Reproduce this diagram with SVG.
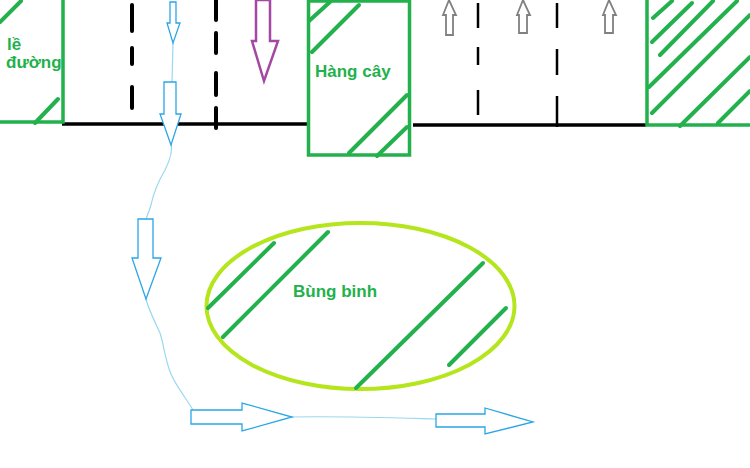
<svg xmlns="http://www.w3.org/2000/svg" width="750" height="468" viewBox="0 0 750 468">
<defs>
<style>
.g{fill:none;stroke:#22b14c;stroke-width:3.5}
.h{fill:none;stroke:#22b14c;stroke-width:4;stroke-linecap:round}
.t{fill:#22b14c;font-family:"Liberation Sans",Arial,sans-serif;font-weight:bold;font-size:17px}
.road{fill:none;stroke:#000;stroke-width:3.5}
.dash{fill:none;stroke:#000;stroke-width:4;stroke-linecap:round}
.dash2{fill:none;stroke:#000;stroke-width:2.5}
.ba{fill:#fff;stroke:#2aa6e6;stroke-width:1.3}
.bl{fill:none;stroke:#9ad8ee;stroke-width:1.2}
.pa{fill:#fff;stroke:#a349a4;stroke-width:2.5}
.ga{fill:#fff;stroke:#808080;stroke-width:1.8}
</style>
</defs>
<rect width="750" height="468" fill="#fff"/>
<g id="road">
<line class="road" x1="62" y1="124" x2="308" y2="124"/>
<line class="road" x1="413" y1="125" x2="646" y2="125"/>
<path class="dash" d="M132,5V31M132,48V64M132,87V108"/>
<path class="dash" d="M216,0V20M216,33V53M216,73V95M216,108V128"/>
<path class="dash2" d="M478,3V28M478,47V65M478,90V115"/>
<path class="dash2" d="M557,3V28M557,49V75M557,96V127"/>
</g>
<g id="le-duong">
<path class="g" d="M0,122H63V0"/>
<line class="h" x1="0" y1="22" x2="21" y2="1"/>
<line class="h" x1="35" y1="123" x2="58" y2="99"/>
<text class="t" x="7" y="50">lề</text>
<text class="t" x="6" y="68">đường</text>
</g>
<g id="hang-cay">
<rect class="g" x="308.5" y="1" width="101" height="154"/>
<line class="h" x1="309" y1="21" x2="331" y2="1"/>
<line class="h" x1="312" y1="52" x2="359" y2="5"/>
<line class="h" x1="349" y1="153" x2="407" y2="95"/>
<line class="h" x1="377" y1="156" x2="407" y2="127"/>
<text class="t" x="315" y="77">Hàng cây</text>
</g>
<g id="right-block">
<path class="g" d="M647,0V125H750"/>
<line class="h" x1="653" y1="18" x2="672" y2="1"/>
<line class="h" x1="652" y1="42" x2="692" y2="3"/>
<line class="h" x1="660" y1="55" x2="713" y2="1"/>
<line class="h" x1="649" y1="87" x2="737" y2="1"/>
<line class="h" x1="652" y1="113" x2="750" y2="15"/>
<line class="h" x1="680" y1="126" x2="750" y2="57"/>
<line class="h" x1="718" y1="123" x2="750" y2="91"/>
</g>
<g id="bung-binh">
<ellipse cx="360.5" cy="306" rx="154" ry="83" fill="none" stroke="#b5e61d" stroke-width="4"/>
<line class="h" x1="208" y1="308" x2="274" y2="243"/>
<line class="h" x1="223" y1="337" x2="328" y2="232"/>
<line class="h" x1="356" y1="388" x2="483" y2="263"/>
<line class="h" x1="449" y1="365" x2="506" y2="308"/>
<text class="t" x="293" y="297">Bùng binh</text>
</g>
<g id="connectors">
<path class="bl" d="M173,43L172,82"/>
<path class="bl" d="M171,143C173,150 170,160 165,170C158,182 153,195 151,205C149,212 147,216 146,219"/>
<path class="bl" d="M146,299C148,308 155,322 160,333C164,345 165,360 171,374C176,386 186,398 193,410"/>
<path class="bl" d="M292,417C340,416 400,418 436,419"/>
<polygon class="ba" points="170,2 176,2 176,23 180,23 173,43 167,23 170,23"/>
<polygon class="ba" points="164,82 176,82 176,114 181,114 171,145 160,114 164,114"/>
<polygon class="ba" points="138,219 153,219 153,258 161,258 146,299 132,258 138,258"/>
<polygon class="ba" points="191,410 242,410 242,403 292,417 242,431 242,424 191,424"/>
<polygon class="ba" points="436,414 485,414 485,408 533,422 485,434 485,427 436,427"/>
<polygon class="pa" points="256,0 270,0 270,41 278,41 264,81 252,41 256,41"/>
<polygon class="ga" points="449,0 456,15 453,15 453,35 446,35 446,15 443,15"/>
<polygon class="ga" points="523,0 530,15 527,15 527,33 519,33 519,15 517,15"/>
<polygon class="ga" points="609,0 616,15 613,15 613,33 605,33 605,15 603,15"/>
</g>
</svg>
